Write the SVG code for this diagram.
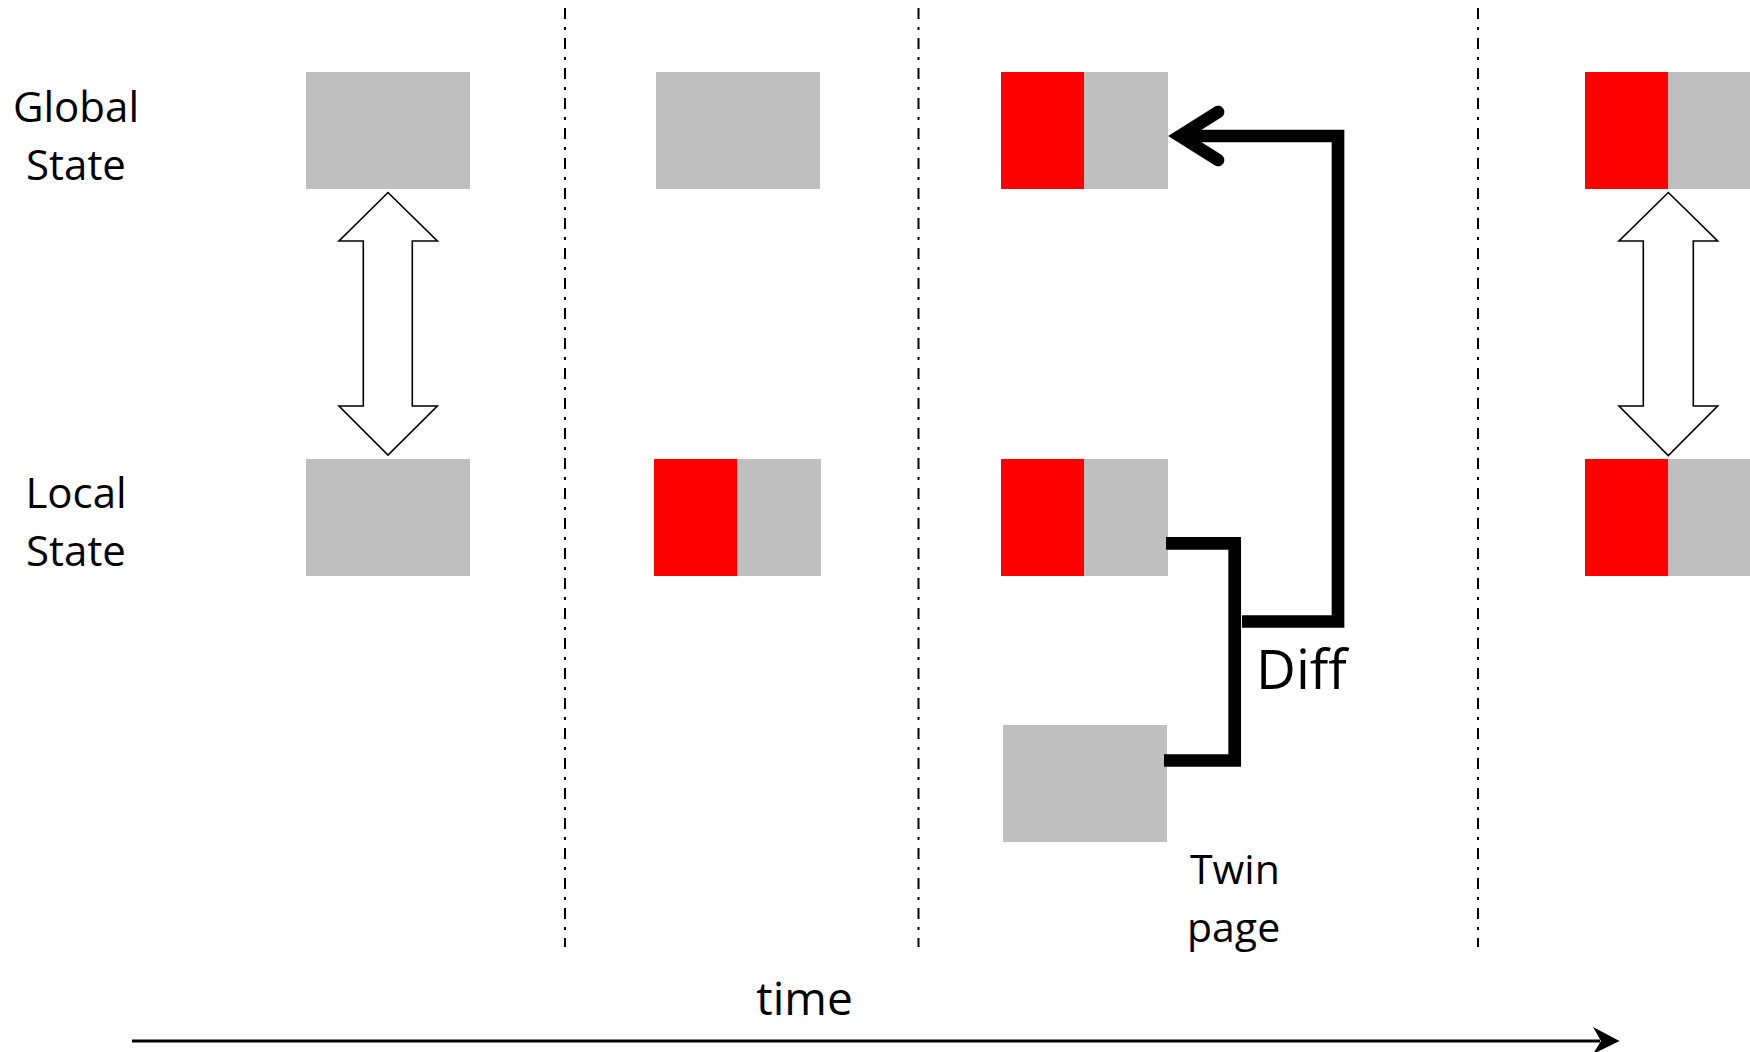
<svg xmlns="http://www.w3.org/2000/svg" width="1750" height="1052" viewBox="0 0 1750 1052">
<style>
.g{fill:#BFBFBF}
.r{fill:#FF0000}
.t{font-family:"Open Sans","Liberation Sans",sans-serif;fill:#000}
.sep{stroke:#000;stroke-width:2;stroke-dasharray:11 8 3 8;fill:none}
.dbl{fill:#fff;stroke:#000;stroke-width:1.6;stroke-linejoin:miter}
.thick{fill:none;stroke:#000;stroke-width:12.7;stroke-linejoin:miter}
</style>
<rect width="1750" height="1052" fill="#fff"/>
<g id="separators">
<line class="sep" x1="565" y1="8" x2="565" y2="947"/>
<line class="sep" x1="918.5" y1="8" x2="918.5" y2="947"/>
<line class="sep" x1="1478" y1="8" x2="1478" y2="947"/>
</g>
<g id="label-global" class="t" font-size="42" text-anchor="middle">
<text x="76" y="122">Global</text>
<text x="76" y="180">State</text>
</g>
<g id="label-local" class="t" font-size="42" text-anchor="middle">
<text x="76" y="508">Local</text>
<text x="76" y="566">State</text>
</g>
<g id="g1"><rect class="g" x="306" y="72" width="164" height="117"/></g>
<g id="l1"><rect class="g" x="306" y="459" width="164" height="117"/></g>
<g id="g2"><rect class="g" x="656" y="72" width="164" height="117"/></g>
<g id="l2"><rect class="r" x="654" y="459" width="83" height="117"/><rect class="g" x="737" y="459" width="84" height="117"/></g>
<g id="g3"><rect class="r" x="1001" y="72" width="83" height="117"/><rect class="g" x="1084" y="72" width="84" height="117"/></g>
<g id="l3"><rect class="r" x="1001" y="459" width="83" height="117"/><rect class="g" x="1084" y="459" width="84" height="117"/></g>
<g id="twin"><rect class="g" x="1003" y="725" width="164" height="117"/>
<text class="t" font-size="41" x="1190" y="884">Twin</text>
<text class="t" font-size="41" x="1187" y="942">page</text>
</g>
<g id="g4"><rect class="r" x="1585" y="72" width="83" height="117"/><rect class="g" x="1668" y="72" width="84" height="117"/></g>
<g id="l4"><rect class="r" x="1585" y="459" width="83" height="117"/><rect class="g" x="1668" y="459" width="84" height="117"/></g>
<g id="connectors">
<polygon class="dbl" points="388,192.5 437.3,241 412.3,241 412.3,406 437.3,406 388,455 339,406 363.3,406 363.3,241 339,241"/>
<polygon class="dbl" points="1668.3,192.5 1717.7,241 1693.3,241 1693.3,406 1717.7,406 1668.3,455.5 1619,406 1643.3,406 1643.3,241 1619,241"/>
<path class="thick" d="M1166,543.3 H1234.7 V760.5 H1164"/>
<path class="thick" d="M1242,621.5 H1338 V136 H1182"/>
<polyline class="thick" stroke-linecap="round" points="1218,112 1180,136 1218,160"/>
<line x1="132" y1="1041" x2="1600" y2="1041" stroke="#000" stroke-width="3"/>
<polygon points="1593,1027 1619.5,1041 1593,1054 1601,1041" fill="#000"/>
</g>
<g id="label-diff"><text class="t" font-size="55" x="1256" y="689">Diff</text></g>
<g id="label-time"><text class="t" font-size="46" x="804.5" y="1015" text-anchor="middle">time</text></g>
</svg>
